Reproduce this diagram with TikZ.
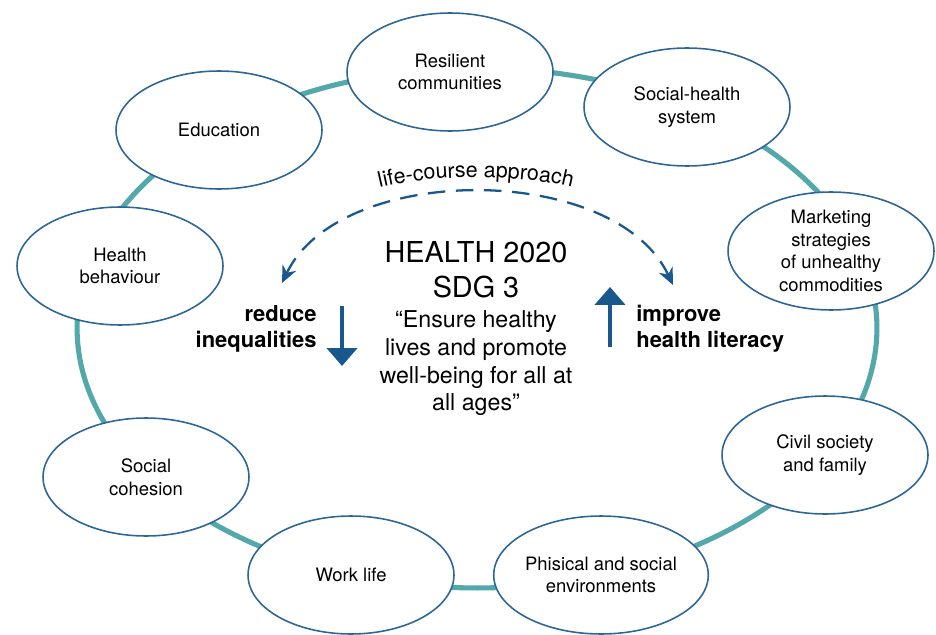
\documentclass[tikz,border=0pt]{standalone}
\usepackage{fontspec}
\setmainfont{TeX Gyre Heros}
\usepackage{tikz}
\usetikzlibrary{arrows.meta, positioning, shapes.geometric, decorations.text}
\definecolor{ringteal}{RGB}{82,168,170}
\definecolor{rimblue}{RGB}{44,102,152}
\definecolor{arrowblue}{RGB}{24,88,140}
\tikzset{
  factor/.style = {ellipse, draw=rimblue, line width=0.9pt, fill=white,
    minimum width=4.12cm, minimum height=2.36cm, inner sep=0pt,
    align=center, font=\fontsize{10.5}{12.8}\selectfont},
  aim/.style = {inner sep=0pt, font=\bfseries\fontsize{12.5}{14.8}\selectfont},
  bigarrow/.style = {arrowblue, line width=2.8pt,
    -{Triangle[width=0.6cm, length=0.36cm]}},
  course/.style = {arrowblue, line width=1.3pt, dash pattern=on 10pt off 6pt,
    {Stealth[length=0.34cm, width=0.3cm]}-{Stealth[length=0.34cm, width=0.3cm]}}
}

\begin{document}
\begin{tikzpicture}[x=0.02cm, y=-0.02cm]
\useasboundingbox (0,0) rectangle (936,635);
% ring
\coordinate (hub) at (477,328);
\draw[ringteal, line width=2.9pt] (hub) ellipse [x radius=8cm, y radius=5.2cm];

% determinants
\node[factor] (resil) at (450,72) {Resilient\\communities};
\node[factor] (socsys) at (687,107) {Social-health\\system};
\node[factor] (market) at (831,251) {Marketing\\strategies\\of unhealthy\\commodities};
\node[factor] (civil) at (825,455) {Civil society\\and family};
\node[factor] (phys) at (601,575) {Phisical and social\\environments};
\node[factor] (work) at (351,575) {Work life};
\node[factor] (cohes) at (146,477) {Social\\cohesion};
\node[factor] (behav) at (120,266) {Health\\behaviour};
\node[factor] (edu) at (219,130) {Education};

% centre
\node[font=\fontsize{16.4}{20}\selectfont, align=center, inner sep=0pt] (title) at (476,270) {HEALTH 2020\\SDG 3};
\node[font=\fontsize{13.2}{15.7}\selectfont, align=center, inner sep=0pt, below=0.24cm of title] (goal)
  {“Ensure healthy\\lives and promote\\well-being for all at\\all ages”};

\node[aim, align=right, anchor=east] (reduce) at (317,329) {reduce\\inequalities};
\node[aim, align=left, anchor=west] (improve) at (636,329) {improve\\health literacy};

\coordinate (downtop) at (342,306);
\coordinate (downend) at (342,366);
\coordinate (upbottom) at (610,347);
\coordinate (uptop) at (610,287);
\draw[bigarrow] (downtop) -- (downend);
\draw[bigarrow] (upbottom) -- (uptop);

% life-course arc
\coordinate (arcleft) at (282,283);
\coordinate (arcright) at (673,285);
\draw[course] (arcleft) .. controls (340,162) and (615,162) .. (arcright);
\path[decorate, decoration={text along path, text align=center,
  text={|\fontsize{12.2}{14}\selectfont|life-course approach}}]
  (370,190) .. controls (430,173) and (522,173) .. (582,190);
\end{tikzpicture}
\end{document}
